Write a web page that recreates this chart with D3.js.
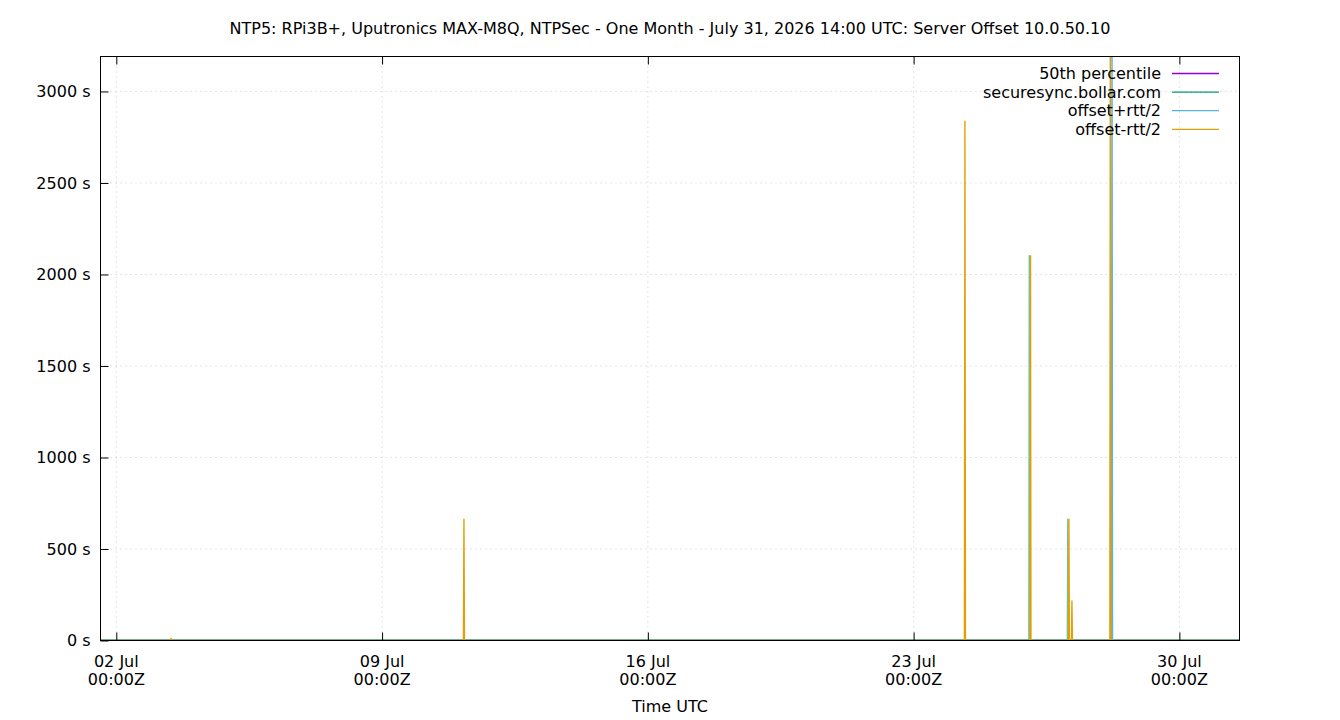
<!DOCTYPE html>
<html>
<head>
<meta charset="utf-8">
<script src="https://cdn.jsdelivr.net/npm/d3@7"></script>
<style>
  body { margin: 0; background: #fff; }
  text { font-family: "DejaVu Sans", sans-serif; fill: #000; }
</style>
</head>
<body>
<div id="chart"></div>
<script>
// ---- data ----
const titleText = "NTP5: RPi3B+, Uputronics MAX-M8Q, NTPSec - One Month - July 31, 2026 14:00 UTC: Server Offset 10.0.50.10";
const timeDomain = ["2026-07-01T14:00:00Z", "2026-07-31T14:00:00Z"];
const yDomain = [0, 3191];
const yTicks = [0, 500, 1000, 1500, 2000, 2500, 3000];
const xTicks = ["2026-07-02T00:00:00Z", "2026-07-09T00:00:00Z", "2026-07-16T00:00:00Z",
  "2026-07-23T00:00:00Z", "2026-07-30T00:00:00Z"];
const seriesNames = ["50th percentile", "securesync.bollar.com", "offset+rtt/2", "offset-rtt/2"];
const seriesColors = ["#9400d3", "#009e73", "#56b4e9", "#e69f00"];

// [time, offset seconds]
const medianOffset = [
  ["2026-07-01T14:00:00Z", 0], ["2026-07-31T14:00:00Z", 0]
];
const securesyncOffset = [
  ["2026-07-01T14:00:00Z", 4],
  ["2026-07-26T00:50:00Z", 4], ["2026-07-26T01:08:00Z", 2105], ["2026-07-26T01:26:00Z", 4],
  ["2026-07-27T01:10:00Z", 4], ["2026-07-27T01:28:00Z", 665], ["2026-07-27T01:46:00Z", 4],
  ["2026-07-31T14:00:00Z", 4]
];
const offsetPlusRtt = [
  ["2026-07-01T14:00:00Z", 0],
  ["2026-07-28T05:05:00Z", 0], ["2026-07-28T05:25:00Z", 3500], ["2026-07-28T05:45:00Z", 0],
  ["2026-07-31T14:00:00Z", 0]
];
const offsetMinusRtt = [
  ["2026-07-01T14:00:00Z", 0],
  ["2026-07-03T10:15:00Z", 0], ["2026-07-03T10:34:00Z", 15], ["2026-07-03T10:53:00Z", 0],
  ["2026-07-11T03:25:00Z", 0], ["2026-07-11T03:45:00Z", 665], ["2026-07-11T04:05:00Z", 0],
  ["2026-07-24T08:06:00Z", 0], ["2026-07-24T08:26:00Z", 2840], ["2026-07-24T08:46:00Z", 0],
  ["2026-07-26T01:35:00Z", 0], ["2026-07-26T01:53:00Z", 2105], ["2026-07-26T02:11:00Z", 0],
  ["2026-07-27T01:52:00Z", 0], ["2026-07-27T02:10:00Z", 665], ["2026-07-27T02:28:00Z", 0],
  ["2026-07-27T03:45:00Z", 0], ["2026-07-27T04:04:00Z", 218], ["2026-07-27T04:23:00Z", 0],
  ["2026-07-28T04:02:00Z", 0], ["2026-07-28T04:22:00Z", 3500], ["2026-07-28T04:42:00Z", 0],
  ["2026-07-31T14:00:00Z", 0]
];
const seriesData = [medianOffset, securesyncOffset, offsetPlusRtt, offsetMinusRtt];

// ---- layout ----
let W = 1340, H = 720;
let margin = { top: 56.5, right: 100.5, bottom: 79.5, left: 100.5 },
  width = W - margin.left - margin.right,
  height = H - margin.top - margin.bottom;

let svg = d3.select("#chart")
  .append("svg")
  .attr("width", W)
  .attr("height", H);

let g = svg.append("g")
  .attr("transform", "translate(" + margin.left + "," + margin.top + ")");

let x = d3.scaleUtc()
  .domain(timeDomain.map(d => new Date(d)))
  .range([0, width]);

let y = d3.scaleLinear()
  .domain(yDomain)
  .range([height, 0]);

// title
svg.append("text")
  .attr("x", W / 2)
  .attr("y", 34)
  .attr("text-anchor", "middle")
  .style("font-size", "16px")
  .text(titleText);

// grid
g.append("g")
  .selectAll("line")
  .data(yTicks.filter(d => d > 0))
  .join("line")
  .attr("x1", 0).attr("x2", width)
  .attr("y1", d => y(d)).attr("y2", d => y(d))
  .attr("stroke", "#c8c8c8")
  .attr("stroke-dasharray", "1,4");

g.append("g")
  .selectAll("line")
  .data(xTicks)
  .join("line")
  .attr("x1", d => x(new Date(d))).attr("x2", d => x(new Date(d)))
  .attr("y1", 0).attr("y2", height)
  .attr("stroke", "#c8c8c8")
  .attr("stroke-dasharray", "1,4");

// clip for series
svg.append("defs").append("clipPath")
  .attr("id", "plotclip")
  .append("rect")
  .attr("width", width)
  .attr("height", height);

let line = d3.line()
  .x(d => x(new Date(d[0])))
  .y(d => y(d[1]));

let series = g.append("g").attr("clip-path", "url(#plotclip)");
seriesData.forEach((s, i) => {
  series.append("path")
    .datum(s)
    .attr("d", line)
    .attr("stroke", seriesColors[i])
    .style("fill", "none")
    .style("stroke-width", 1.4)
    .style("stroke-opacity", i == 1 ? 0.6 : 1);
});

// frame
g.append("rect")
  .attr("width", width)
  .attr("height", height)
  .style("fill", "none")
  .attr("stroke", "#000")
  .style("stroke-width", 1);

// y ticks (inward)
let yAxisCall = d3.axisLeft(y)
  .tickValues(yTicks)
  .tickSizeInner(-8)
  .tickSizeOuter(0)
  .tickPadding(10)
  .tickFormat(d => d + " s");
let yAxis = g.append("g").call(yAxisCall);
yAxis.select(".domain").remove();
yAxis.selectAll("text").style("font-size", "16px").attr("fill", "#000");

// x ticks (inward, mirrored on top)
let xAxisCall = d3.axisBottom(x)
  .tickValues(xTicks.map(d => new Date(d)))
  .tickSizeInner(-8)
  .tickSizeOuter(0)
  .tickFormat("");
let xAxis = g.append("g")
  .attr("transform", "translate(0," + height + ")")
  .call(xAxisCall);
xAxis.select(".domain").remove();

let xTop = g.append("g")
  .call(d3.axisTop(x).tickValues(xTicks.map(d => new Date(d))).tickSizeInner(-8).tickSizeOuter(0).tickFormat(""));
xTop.select(".domain").remove();

let fmtDay = d3.utcFormat("%d %b");
let fmtTime = d3.utcFormat("%H:%MZ");
let xl = g.append("g")
  .selectAll("text")
  .data(xTicks)
  .join("text")
  .attr("text-anchor", "middle")
  .attr("transform", d => "translate(" + x(new Date(d)) + "," + (height + 26) + ")")
  .style("font-size", "16px");
xl.append("tspan").attr("x", 0).attr("y", 0).text(d => fmtDay(new Date(d)));
xl.append("tspan").attr("x", 0).attr("y", 18).text(d => fmtTime(new Date(d)));

svg.append("text")
  .attr("x", margin.left + width / 2)
  .attr("y", 712)
  .attr("text-anchor", "middle")
  .style("font-size", "16px")
  .text("Time UTC");

// legend
let legend = svg.append("g");
seriesNames.forEach((name, i) => {
  let ly = 73.5 + i * 18.6;
  legend.append("text")
    .attr("x", 1161)
    .attr("y", ly + 5.5)
    .attr("text-anchor", "end")
    .style("font-size", "16px")
    .text(name);
  legend.append("line")
    .attr("x1", 1172).attr("x2", 1219)
    .attr("y1", ly).attr("y2", ly)
    .attr("stroke", seriesColors[i])
    .style("stroke-width", 1.3);
});
</script>
</body>
</html>
